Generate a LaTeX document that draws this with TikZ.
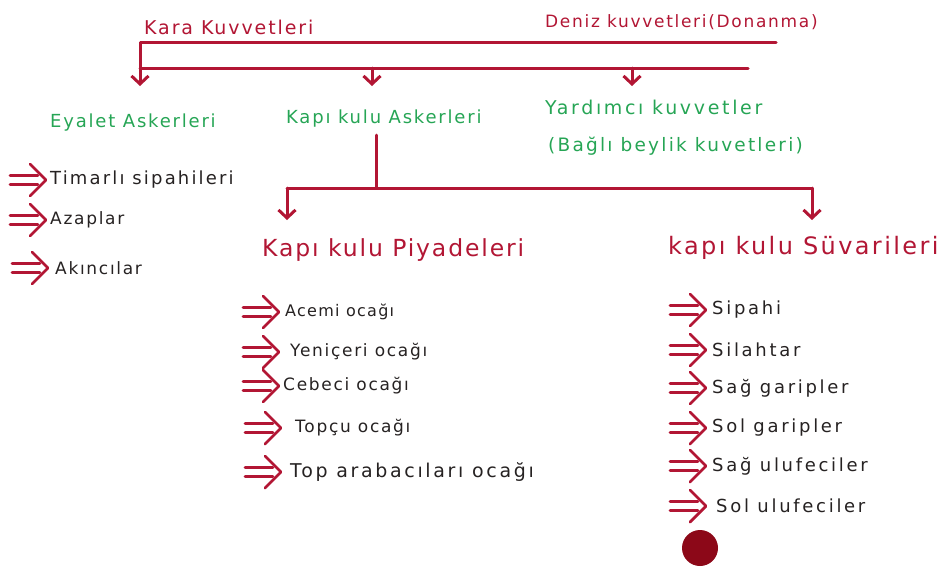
\documentclass[tikz,border=0pt]{standalone}
\usepackage{fontspec}
\setmainfont{DejaVu Sans}[LetterSpace=10]
\usetikzlibrary{arrows.meta}
\definecolor{ink}{RGB}{178,22,52}
\definecolor{leaf}{RGB}{38,165,85}
\definecolor{pencil}{RGB}{38,34,34}
\definecolor{blot}{RGB}{140,8,24}
\newcommand{\spread}[1]{\addfontfeature{LetterSpace=#1}}
\begin{document}
\begin{tikzpicture}[x=1pt,y=-1pt,
  wire/.style={draw=ink,line width=3pt,line cap=round,line join=round},
  drop/.style={wire,-{Straight Barb[length=8pt,width=17pt]}},
  head/.style={text=ink,font=\fontsize{19}{22}\selectfont,anchor=west,inner sep=0pt},
  group/.style={text=ink,font=\fontsize{24}{28}\selectfont,anchor=west,inner sep=0pt},
  branch/.style={text=leaf,font=\fontsize{18}{22}\selectfont,anchor=west,inner sep=0pt},
  item/.style={text=pencil,font=\fontsize{17}{20}\selectfont,anchor=west,inner sep=0pt},
  dblarrow/.pic={
    \draw[wire,line width=2.8pt] (0,-4.5) -- (28,-4.5) (0,4.5) -- (28,4.5);
    \draw[wire,line width=2.8pt] (20,-16) -- (36,0) -- (20,16);
  }]
\useasboundingbox (0,0) rectangle (942,574);

% top level
\node[head] (kara) at (144,27) {Kara Kuvvetleri};
\node[head,font=\fontsize{17}{20}\selectfont] (deniz) at (545,22) {Deniz kuvvetleri(Donanma)};

\coordinate (topL) at (140,42);
\coordinate (topR) at (776,42);
\coordinate (midL) at (140,68);
\coordinate (midR) at (748,68);
\coordinate (midA) at (372,68);
\coordinate (midB) at (632,68);
\coordinate (tipL) at (140,86);
\coordinate (tipA) at (372,86);
\coordinate (tipB) at (632,86);

\draw[wire] (topR) -- (topL) -- (midL);
\draw[wire] (midL) -- (midR);
\draw[drop] (midL) -- (tipL);
\draw[drop] (midA) -- (tipA);
\draw[drop] (midB) -- (tipB);

% land forces branches
\node[branch] (eyalet) at (50,123) {Eyalet Askerleri};
\node[branch] (kapikulu) at (286,119) {Kapı kulu Askerleri};
\node[branch,font=\fontsize{19}{22}\selectfont\spread{14}] (yardimci) at (545,107) {Yardımcı kuvvetler};
\node[branch,font=\fontsize{18.5}{22}\selectfont\spread{12}] (bagli) at (548,146) {(Bağlı beylik kuvetleri)};

% provincial troops
\pic at (10,180) {dblarrow};
\pic at (10,220) {dblarrow};
\pic at (12,268) {dblarrow};
\node[item,font=\fontsize{18}{20}\selectfont\spread{12}] (timarli) at (50,180) {Timarlı sipahileri};
\node[item] (azaplar) at (50,220) {Azaplar};
\node[item] (akincilar) at (55,268) {Akıncılar};

% household troops split
\coordinate (kkDown) at (376,135);
\coordinate (kkJoin) at (376,188);
\coordinate (splitL) at (287,188);
\coordinate (splitR) at (812,188);
\coordinate (tipP) at (287,220);
\coordinate (tipS) at (812,220);
\draw[wire] (kkDown) -- (kkJoin);
\draw[wire] (splitL) -- (splitR);
\draw[drop] (splitL) -- (tipP);
\draw[drop] (splitR) -- (tipS);

\node[group,font=\fontsize{23.5}{28}\selectfont\spread{8}] (piyade) at (262,250) {Kapı kulu Piyadeleri};
\node[group] (suvari) at (668,248) {kapı kulu Süvarileri};

% infantry
\pic at (243,312) {dblarrow};
\pic at (243,352) {dblarrow};
\pic at (243,386) {dblarrow};
\pic at (245,428) {dblarrow};
\pic at (245,472) {dblarrow};
\node[item,font=\fontsize{16}{20}\selectfont\spread{8}] (acemi) at (285,312) {Acemi ocağı};
\node[item] (yeniceri) at (290,352) {Yeniçeri ocağı};
\node[item] (cebeci) at (283,386) {Cebeci ocağı};
\node[item] (topcu) at (295,428) {Topçu ocağı};
\node[item,font=\fontsize{19}{22}\selectfont\spread{14}] (araba) at (290,472) {Top arabacıları ocağı};

% cavalry
\pic at (670,310) {dblarrow};
\pic at (670,350) {dblarrow};
\pic at (670,388) {dblarrow};
\pic at (670,428) {dblarrow};
\pic at (670,466) {dblarrow};
\pic at (670,506) {dblarrow};
\tikzset{cav/.style={item,font=\fontsize{18}{20}\selectfont\spread{15}}}
\node[cav] (sipahi) at (712,310) {Sipahi};
\node[cav] (silahtar) at (712,350) {Silahtar};
\node[cav] (saggar) at (712,388) {Sağ garipler};
\node[cav] (solgar) at (712,428) {Sol garipler};
\node[cav] (sagulu) at (712,466) {Sağ ulufeciler};
\node[cav] (solulu) at (716,506) {Sol ulufeciler};

\fill[blot] (700,548) circle (18);
\end{tikzpicture}
\end{document}
